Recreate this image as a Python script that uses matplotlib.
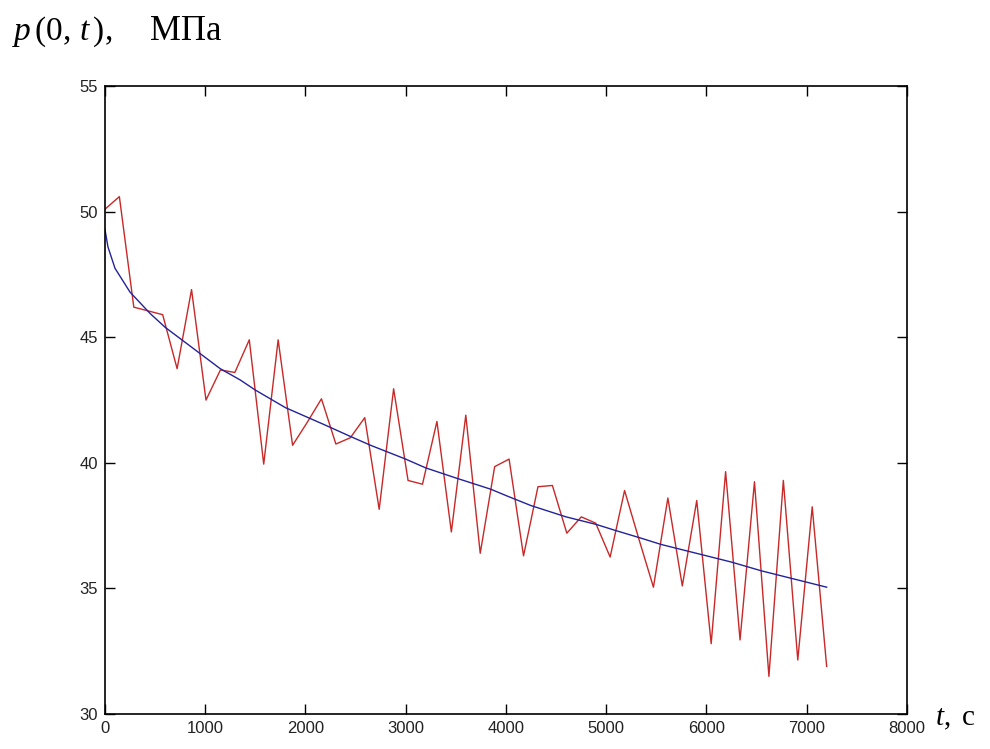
import numpy as np
import matplotlib.pyplot as plt

plt.rcParams['mathtext.fontset'] = 'custom'
plt.rcParams['mathtext.rm'] = 'Liberation Serif'
plt.rcParams['mathtext.it'] = 'Liberation Serif:italic'

# measured pressure at the well, sampled every 144 s
t_meas = np.linspace(0, 7200, 51)
p_meas = [50.1, 50.6, 46.2, 46.05, 45.9, 43.75, 46.9, 42.5, 43.7, 43.6,
          44.9, 39.95, 44.9, 40.7, 41.6, 42.55, 40.75, 41.0, 41.8, 38.15,
          42.95, 39.3, 39.15, 41.65, 37.25, 41.9, 36.4, 39.85, 40.15, 36.3,
          39.05, 39.1, 37.2, 37.85, 37.6, 36.25, 38.9, 36.95, 35.05, 38.6,
          35.1, 38.5, 32.8, 39.65, 32.95, 39.25, 31.5, 39.3, 32.15, 38.25,
          31.9]

# model curve
t_fit = [0, 30, 100, 250, 450, 600, 750, 950, 1150, 1350, 1500, 1650, 1800,
         2000, 2200, 2450, 2650, 3000, 3200, 3500, 3850, 4000, 4250, 4600,
         4900, 5100, 5350, 5550, 5850, 6250, 6550, 6850, 7200]
p_fit = [49.3, 48.6, 47.75, 46.8, 45.95, 45.4, 44.95, 44.35, 43.75, 43.3,
         42.9, 42.55, 42.2, 41.85, 41.5, 41.05, 40.7, 40.15, 39.8, 39.4,
         38.95, 38.7, 38.3, 37.85, 37.55, 37.3, 37.0, 36.75, 36.45, 36.05,
         35.7, 35.4, 35.05]

x_ticks = [0, 1000, 2000, 3000, 4000, 5000, 6000, 7000, 8000]
y_ticks = [30, 35, 40, 45, 50, 55]

fig = plt.figure(figsize=(9.9, 7.49), dpi=100)
ax = fig.add_axes([0.106, 0.0467, 0.81, 0.8383])

ax.plot(t_meas, p_meas, color='#c82828', lw=1.0)
ax.plot(t_fit, p_fit, color='#22229a', lw=1.0)

ax.set_xlim(0, 8000)
ax.set_ylim(30, 55)
ax.set_xticks(x_ticks)
ax.set_yticks(y_ticks)
ax.tick_params(direction='in', length=7, width=1, top=True, right=True,
               labelsize=12, pad=5, colors='black', labelcolor='#222222')
for lbl in ax.get_xticklabels() + ax.get_yticklabels():
    lbl.set_fontfamily('Liberation Sans')
for s in ax.spines.values():
    s.set_linewidth(1.2)

# axis captions
fig.text(12 / 990, 1 - 40 / 749, r'$p\,(0,\,t\,),$', fontsize=24,
         family='Liberation Serif', ha='left', va='baseline')
fig.text(150 / 990, 1 - 40 / 749, 'МПа', fontsize=25,
         family='Liberation Serif', ha='left', va='baseline')
fig.text(935 / 990, 1 - 725 / 749, r'$t,$ с', fontsize=21,
         family='Liberation Serif', ha='left', va='baseline')

fig.savefig('out.png', dpi=100)
